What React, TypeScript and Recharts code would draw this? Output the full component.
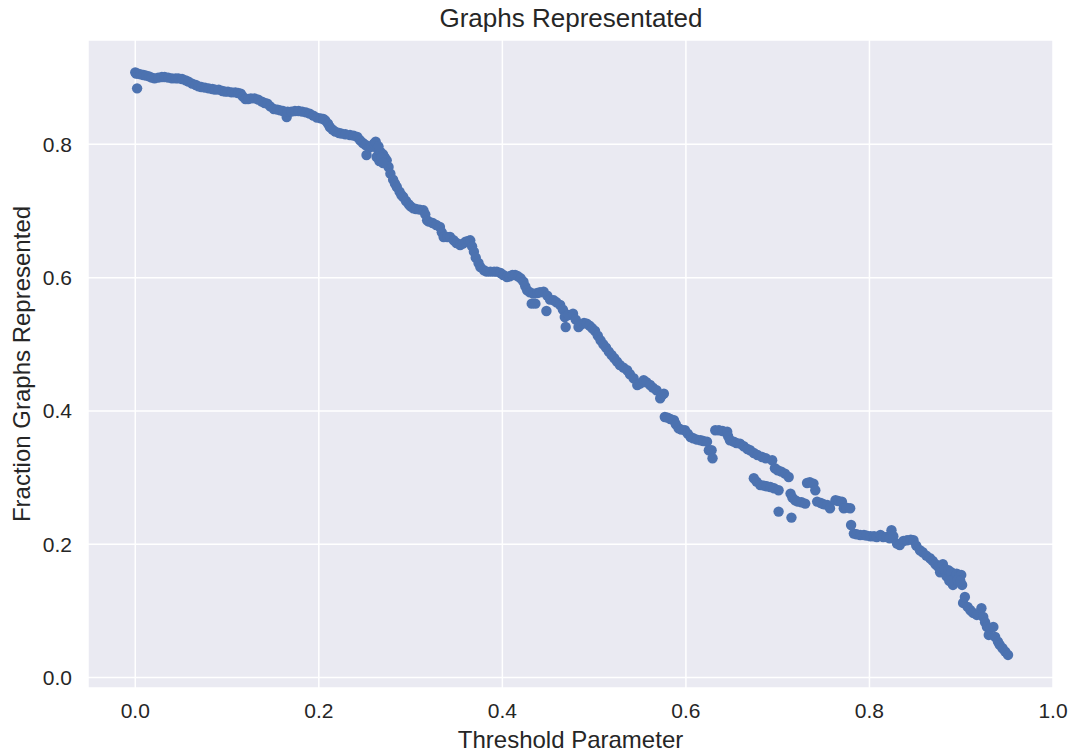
import React from "react";
import { ScatterChart, Scatter, XAxis, YAxis, CartesianGrid } from "recharts";

// threshold values (x) and the fraction of graphs represented (y)
const threshold = [
    0.000, 0.001, 0.002, 0.003, 0.006, 0.009, 0.012, 0.015,
    0.018, 0.021, 0.025, 0.029, 0.032, 0.036, 0.040, 0.044,
    0.047, 0.051, 0.055, 0.058, 0.062, 0.066, 0.069, 0.072,
    0.076, 0.080, 0.084, 0.087, 0.091, 0.095, 0.098, 0.101,
    0.105, 0.109, 0.112, 0.115, 0.117, 0.120, 0.123, 0.126,
    0.130, 0.134, 0.138, 0.141, 0.144, 0.147, 0.151, 0.155,
    0.158, 0.161, 0.165, 0.166, 0.170, 0.174, 0.178, 0.182,
    0.186, 0.190, 0.194, 0.198, 0.202, 0.205, 0.207, 0.210,
    0.212, 0.215, 0.218, 0.222, 0.225, 0.229, 0.234, 0.238,
    0.242, 0.245, 0.248, 0.251, 0.252, 0.255, 0.257, 0.260,
    0.262, 0.263, 0.264, 0.266, 0.267, 0.270, 0.272, 0.274,
    0.276, 0.278, 0.281, 0.283, 0.285, 0.288, 0.290, 0.292,
    0.295, 0.298, 0.300, 0.303, 0.306, 0.310, 0.314, 0.316,
    0.318, 0.320, 0.324, 0.328, 0.332, 0.334, 0.336, 0.340,
    0.343, 0.347, 0.350, 0.354, 0.357, 0.360, 0.363, 0.365,
    0.367, 0.369, 0.371, 0.374, 0.376, 0.380, 0.383, 0.387,
    0.391, 0.394, 0.398, 0.401, 0.405, 0.408, 0.411, 0.414,
    0.417, 0.420, 0.423, 0.425, 0.427, 0.430, 0.432, 0.434,
    0.436, 0.438, 0.441, 0.445, 0.448, 0.449, 0.452, 0.456,
    0.459, 0.463, 0.466, 0.468, 0.469, 0.472, 0.477, 0.480,
    0.483, 0.486, 0.489, 0.492, 0.495, 0.498, 0.501, 0.504,
    0.507, 0.510, 0.513, 0.516, 0.519, 0.522, 0.525, 0.528,
    0.532, 0.536, 0.539, 0.543, 0.547, 0.550, 0.554, 0.557,
    0.561, 0.564, 0.568, 0.572, 0.574, 0.576, 0.577, 0.580,
    0.583, 0.587, 0.589, 0.592, 0.595, 0.599, 0.602, 0.605,
    0.608, 0.612, 0.616, 0.619, 0.623, 0.625, 0.628, 0.629,
    0.632, 0.636, 0.640, 0.645, 0.646, 0.648, 0.652, 0.655,
    0.659, 0.663, 0.667, 0.670, 0.674, 0.678, 0.683, 0.687,
    0.694, 0.697, 0.700, 0.704, 0.708, 0.712, 0.674, 0.677,
    0.681, 0.685, 0.688, 0.692, 0.696, 0.701, 0.701, 0.715,
    0.714, 0.716, 0.719, 0.722, 0.726, 0.730, 0.732, 0.735,
    0.739, 0.741, 0.743, 0.747, 0.750, 0.754, 0.757, 0.763,
    0.766, 0.770, 0.772, 0.775, 0.779, 0.780, 0.783, 0.786,
    0.790, 0.794, 0.797, 0.801, 0.805, 0.808, 0.812, 0.815,
    0.819, 0.822, 0.824, 0.826, 0.830, 0.833, 0.837, 0.841,
    0.845, 0.848, 0.851, 0.855, 0.858, 0.862, 0.866, 0.869,
    0.872, 0.875, 0.877, 0.879, 0.880, 0.882, 0.884, 0.886,
    0.889, 0.891, 0.893, 0.895, 0.898, 0.900, 0.901, 0.902,
    0.904, 0.907, 0.910, 0.913, 0.917, 0.922, 0.924, 0.926,
    0.928, 0.930, 0.932, 0.935, 0.937, 0.940, 0.942, 0.945,
    0.948, 0.951, 0.265, 0.268, 0.270, 0.887, 0.896, 0.899,
];

const fraction = [
    0.908, 0.906, 0.884, 0.906, 0.905, 0.904, 0.903, 0.902,
    0.900, 0.899, 0.900, 0.901, 0.901, 0.900, 0.899, 0.899,
    0.899, 0.898, 0.896, 0.894, 0.891, 0.889, 0.887, 0.886,
    0.885, 0.884, 0.883, 0.882, 0.882, 0.880, 0.879, 0.879,
    0.878, 0.878, 0.877, 0.876, 0.872, 0.868, 0.868, 0.869,
    0.869, 0.867, 0.864, 0.862, 0.861, 0.857, 0.853, 0.852,
    0.851, 0.850, 0.841, 0.849, 0.849, 0.850, 0.850, 0.849,
    0.848, 0.846, 0.843, 0.840, 0.839, 0.838, 0.836, 0.831,
    0.826, 0.822, 0.819, 0.817, 0.816, 0.815, 0.814, 0.813,
    0.811, 0.806, 0.802, 0.799, 0.784, 0.795, 0.797, 0.801,
    0.804, 0.781, 0.793, 0.775, 0.789, 0.785, 0.780, 0.776,
    0.766, 0.756, 0.747, 0.741, 0.736, 0.729, 0.724, 0.721,
    0.715, 0.710, 0.707, 0.704, 0.703, 0.702, 0.701, 0.695,
    0.686, 0.684, 0.682, 0.679, 0.676, 0.668, 0.661, 0.661,
    0.661, 0.656, 0.652, 0.649, 0.651, 0.654, 0.655, 0.656,
    0.647, 0.639, 0.630, 0.622, 0.616, 0.611, 0.609, 0.609,
    0.609, 0.609, 0.607, 0.604, 0.601, 0.602, 0.604, 0.604,
    0.602, 0.599, 0.594, 0.587, 0.581, 0.578, 0.561, 0.576,
    0.561, 0.577, 0.578, 0.579, 0.550, 0.573, 0.567, 0.566,
    0.563, 0.559, 0.552, 0.541, 0.526, 0.544, 0.546, 0.537,
    0.526, 0.530, 0.532, 0.531, 0.528, 0.524, 0.520, 0.513,
    0.506, 0.500, 0.495, 0.489, 0.484, 0.479, 0.474, 0.469,
    0.465, 0.461, 0.455, 0.449, 0.439, 0.441, 0.446, 0.443,
    0.439, 0.435, 0.431, 0.419, 0.424, 0.426, 0.391, 0.390,
    0.388, 0.386, 0.380, 0.374, 0.372, 0.371, 0.366, 0.361,
    0.359, 0.357, 0.356, 0.355, 0.354, 0.341, 0.341, 0.329,
    0.371, 0.371, 0.370, 0.369, 0.362, 0.356, 0.354, 0.352,
    0.351, 0.347, 0.343, 0.341, 0.337, 0.334, 0.331, 0.329,
    0.326, 0.314, 0.311, 0.309, 0.306, 0.301, 0.299, 0.294,
    0.289, 0.288, 0.287, 0.286, 0.284, 0.281, 0.249, 0.240,
    0.276, 0.270, 0.266, 0.264, 0.263, 0.261, 0.292, 0.293,
    0.291, 0.281, 0.264, 0.262, 0.260, 0.259, 0.254, 0.266,
    0.265, 0.264, 0.254, 0.255, 0.254, 0.229, 0.216, 0.215,
    0.214, 0.214, 0.213, 0.212, 0.212, 0.211, 0.214, 0.211,
    0.211, 0.209, 0.221, 0.212, 0.201, 0.199, 0.205, 0.206,
    0.207, 0.206, 0.198, 0.191, 0.188, 0.183, 0.179, 0.175,
    0.170, 0.166, 0.158, 0.164, 0.170, 0.162, 0.152, 0.161,
    0.158, 0.139, 0.150, 0.156, 0.154, 0.154, 0.139, 0.112,
    0.121, 0.106, 0.101, 0.097, 0.094, 0.104, 0.091, 0.083,
    0.076, 0.064, 0.074, 0.076, 0.061, 0.054, 0.049, 0.044,
    0.039, 0.034, 0.797, 0.780, 0.772, 0.145, 0.146, 0.145,
];

const xTicks = [0, 0.2, 0.4, 0.6, 0.8, 1.0];
const yTicks = [0, 0.2, 0.4, 0.6, 0.8];

const FONT = "'Liberation Sans', Arial, sans-serif";
const TEXT = "#262626";

const data = threshold.map((t, i) => ({ threshold: t, fraction: fraction[i] }));

const Dot = (props: any) => <circle cx={props.cx} cy={props.cy} r={5.2} fill="#4C72B0" />;

const YLabel = (props: any) => {
    const vb = props.viewBox;
    const cx = vb.x + 21;
    const cy = vb.y + vb.height / 2;
    return (
        <text x={cx} y={cy} transform={`rotate(-90 ${cx} ${cy})`} textAnchor="middle" dominantBaseline="central"
            fontSize={24} fontFamily={FONT} fill={TEXT}>
            Fraction Graphs Represented
        </text>
    );
};

export default function App() {
    return (
        <div style={{ position: "absolute", left: 0, top: 0, width: 1073, height: 754, background: "#fff" }}>
            <ScatterChart width={1073} height={754} margin={{ top: 40, right: 20, bottom: 0, left: 0 }}>
                <CartesianGrid fill="#EAEAF2" stroke="#fff" strokeWidth={1.5} />
                <XAxis type="number" dataKey="threshold" domain={[-0.0515, 1.0]} ticks={xTicks}
                    tickFormatter={(v: number) => v.toFixed(1)} height={66} axisLine={false} tickLine={false}
                    tickSize={6} tickMargin={9} tick={{ fontSize: 21, fill: TEXT, fontFamily: FONT }}
                    label={{ value: "Threshold Parameter", position: "insideBottom", offset: 6, fontSize: 24, fill: TEXT, fontFamily: FONT }} />
                <YAxis type="number" dataKey="fraction" domain={[-0.0156, 0.9565]} ticks={yTicks}
                    tickFormatter={(v: number) => v.toFixed(1)} width={88} axisLine={false} tickLine={false}
                    tickSize={6} tickMargin={10} tick={{ fontSize: 21, fill: TEXT, fontFamily: FONT }}
                    label={<YLabel />} />
                <Scatter data={data} shape={<Dot />} isAnimationActive={false} />
            </ScatterChart>
            <svg width={1073} height={40} style={{ position: "absolute", left: 0, top: 0, pointerEvents: "none" }}>
                <text x={571} y={27} textAnchor="middle" fontSize={26} fontFamily={FONT} fill={TEXT}>
                    Graphs Representated
                </text>
            </svg>
        </div>
    );
}
